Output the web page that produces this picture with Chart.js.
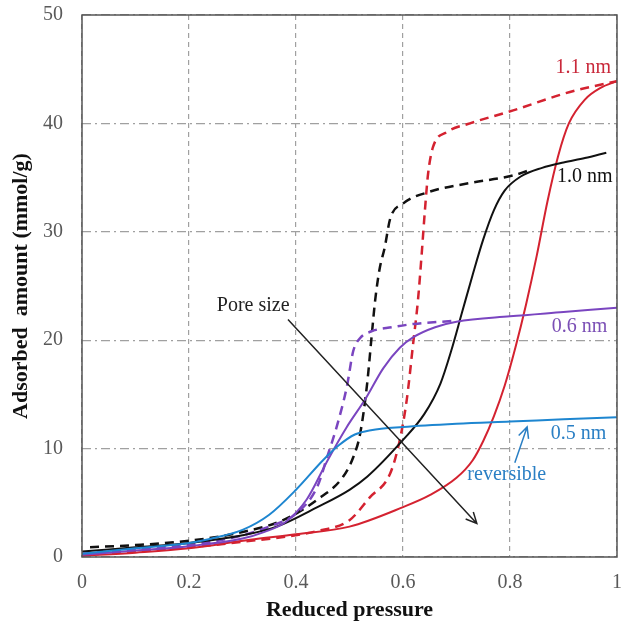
<!DOCTYPE html>
<html>
<head>
<meta charset="utf-8">
<script src="https://cdn.jsdelivr.net/npm/chart.js@4/dist/chart.umd.min.js"></script>
<style>
html, body { margin: 0; padding: 0; background: #fff; }
</style>
</head>
<body>
<canvas id="myChart" width="624" height="628"></canvas>
<script>
// 0.5 nm (reversible)
var blueX = [0, 0.1, 0.2, 0.25, 0.3, 0.35, 0.4, 0.45, 0.48, 0.51, 0.54, 0.6, 0.7, 0.8, 0.9, 1.0];
var blueY = [0.3, 0.8, 1.3, 1.8, 2.5, 3.9, 6.2, 8.9, 10.3, 11.3, 11.7, 12.0, 12.3, 12.5, 12.7, 12.9];

// 0.6 nm
var purpleX = [0, 0.1, 0.2, 0.3, 0.34, 0.38, 0.42, 0.46, 0.495, 0.53, 0.563, 0.594, 0.62, 0.66, 0.7, 0.8, 0.9, 1.0];
var purpleY = [0.2, 0.6, 1.0, 1.7, 2.3, 3.2, 5.3, 9.0, 12.0, 14.6, 17.4, 19.3, 20.3, 21.2, 21.7, 22.2, 22.6, 23.0];
var purpleDesX = [0, 0.1, 0.2, 0.3, 0.35, 0.4, 0.44, 0.458, 0.476, 0.495, 0.507, 0.52, 0.54, 0.58, 0.62, 0.7];
var purpleDesY = [0.3, 0.7, 1.1, 2.0, 2.8, 4.0, 6.5, 9.2, 12.0, 15.7, 19.0, 20.2, 20.8, 21.2, 21.5, 21.8];

// 1.0 nm
var blackX = [0, 0.1, 0.2, 0.3, 0.364, 0.44, 0.5, 0.533, 0.6, 0.64, 0.67, 0.69, 0.71, 0.73, 0.75, 0.77, 0.79, 0.82, 0.86, 0.9, 0.94, 0.98];
var blackY = [0.5, 0.9, 1.3, 2.0, 2.8, 4.6, 6.2, 7.4, 10.8, 13.2, 16.0, 19.0, 22.5, 26.0, 29.3, 32.0, 33.8, 35.1, 35.9, 36.4, 36.8, 37.3];
var blackDesX = [0.015, 0.1, 0.2, 0.3, 0.376, 0.44, 0.488, 0.507, 0.52, 0.533, 0.542, 0.548, 0.556, 0.566, 0.576, 0.6, 0.65, 0.725, 0.806, 0.837];
var blackDesY = [0.9, 1.1, 1.5, 2.3, 3.4, 5.3, 7.4, 9.2, 11.4, 16.0, 20.7, 23.7, 26.5, 28.6, 31.2, 32.6, 33.7, 34.5, 35.2, 35.7];

// 1.1 nm
var redX = [0, 0.1, 0.2, 0.314, 0.4, 0.5, 0.6, 0.65, 0.7, 0.73, 0.75, 0.77, 0.79, 0.81, 0.83, 0.85, 0.87, 0.89, 0.91, 0.94, 0.97, 1.0];
var redY = [0.1, 0.4, 0.8, 1.6, 2.1, 2.8, 4.6, 5.7, 7.3, 8.9, 10.7, 13.0, 15.8, 19.3, 23.3, 27.8, 32.8, 37.0, 40.0, 42.2, 43.3, 43.9];
var redDesX = [0, 0.1, 0.2, 0.3, 0.44, 0.5, 0.538, 0.576, 0.594, 0.607, 0.619, 0.628, 0.635, 0.641, 0.647, 0.656, 0.682, 0.725, 0.806, 0.912, 1.0];
var redDesY = [0.2, 0.5, 0.9, 1.4, 2.4, 3.4, 5.5, 7.7, 10.8, 14.5, 19.7, 23.7, 28.0, 32.0, 35.4, 37.8, 39.2, 40.0, 41.2, 42.9, 43.9];

var xTickLabels = ["0", "0.2", "0.4", "0.6", "0.8", "1"];

// annotations (data coordinates)
var labelText = ["1.1 nm", "1.0 nm", "0.6 nm", "0.5 nm", "reversible", "Pore size"];
var labelX = [0.937, 0.94, 0.93, 0.928, 0.794, 0.32];
var labelY = [45.1, 35.1, 21.2, 11.4, 7.6, 23.2];
var labelColor = ["#c9283a", "#111111", "#7b4fb5", "#2a7fc4", "#2a7fc4", "#222222"];

var arrowFrom = [[0.385, 21.9], [0.809, 8.7]];
var arrowTo = [[0.738, 3.1], [0.832, 12.0]];
var arrowColor = ["#222222", "#2a7fc4"];

function pts(xs, ys) {
    return xs.map(function (x, i) { return { x: x, y: ys[i] }; });
}

function line(data, color, dashed) {
    return {
        data: data,
        borderColor: color,
        borderWidth: dashed ? 2.5 : 2,
        borderDash: dashed ? [9, 6] : [],
        pointRadius: 0,
        fill: false,
        cubicInterpolationMode: 'monotone'
    };
}

var extras = {
    id: 'extras',
    afterDatasetsDraw: function (chart) {
        var c = chart.ctx, a = chart.chartArea;
        var sx = chart.scales.x, sy = chart.scales.y;
        c.save();
        c.strokeStyle = '#555';
        c.lineWidth = 1.5;
        c.strokeRect(a.left, a.top, a.right - a.left, a.bottom - a.top);

        c.font = '20px "Liberation Serif", "Times New Roman", serif';
        c.textAlign = 'center';
        c.textBaseline = 'middle';
        for (var i = 0; i < labelText.length; i++) {
            c.fillStyle = labelColor[i];
            c.fillText(labelText[i], sx.getPixelForValue(labelX[i]), sy.getPixelForValue(labelY[i]));
        }

        for (var j = 0; j < arrowFrom.length; j++) {
            var x1 = sx.getPixelForValue(arrowFrom[j][0]), y1 = sy.getPixelForValue(arrowFrom[j][1]);
            var x2 = sx.getPixelForValue(arrowTo[j][0]), y2 = sy.getPixelForValue(arrowTo[j][1]);
            var ang = Math.atan2(y2 - y1, x2 - x1);
            c.strokeStyle = arrowColor[j];
            c.lineWidth = 1.5;
            c.beginPath();
            c.moveTo(x1, y1);
            c.lineTo(x2, y2);
            c.moveTo(x2 - 12 * Math.cos(ang - 0.45), y2 - 12 * Math.sin(ang - 0.45));
            c.lineTo(x2, y2);
            c.lineTo(x2 - 12 * Math.cos(ang + 0.45), y2 - 12 * Math.sin(ang + 0.45));
            c.stroke();
        }
        c.restore();
    }
};

var ctx = document.getElementById("myChart");
var myChart = new Chart(ctx, {
    type: 'line',
    data: {
        datasets: [
            line(pts(blueX, blueY), '#1e86d0', false),
            line(pts(purpleX, purpleY), '#7a45c0', false),
            line(pts(blackX, blackY), '#111111', false),
            line(pts(redX, redY), '#d42230', false),
            line(pts(purpleDesX, purpleDesY), '#7a45c0', true),
            line(pts(blackDesX, blackDesY), '#111111', true),
            line(pts(redDesX, redDesY), '#d42230', true)
        ]
    },
    options: {
        responsive: false,
        animation: false,
        layout: { padding: { top: 15, right: 7, left: 0, bottom: 0 } },
        plugins: { legend: { display: false }, tooltip: { enabled: false } },
        scales: {
            x: {
                type: 'linear',
                min: 0,
                max: 1,
                ticks: {
                    stepSize: 0.2, color: '#595959', padding: 0,
                    font: { family: '"Liberation Serif", serif', size: 20 },
                    callback: function (v, i) { return xTickLabels[i]; }
                },
                grid: { color: '#a0a0a0', lineWidth: 1.2, drawTicks: true, tickLength: 14, tickColor: 'rgba(0,0,0,0)' },
                border: { display: false, dash: [5, 4] },
                title: { display: true, text: 'Reduced pressure', color: '#111', padding: { top: 2 },
                    font: { family: '"Liberation Serif", serif', size: 22, weight: 'bold' } },
                afterFit: function (s) { s.height = 71; }
            },
            y: {
                min: 0,
                max: 50,
                ticks: { stepSize: 10, color: '#595959', padding: 2, font: { family: '"Liberation Serif", serif', size: 20 } },
                grid: { color: '#a0a0a0', lineWidth: 1.2, drawTicks: true, tickLength: 17, tickColor: 'rgba(0,0,0,0)' },
                border: { display: false, dash: [9, 4, 2, 4] },
                title: { display: true, text: 'Adsorbed  amount (mmol/g)', color: '#111', padding: { top: 8, bottom: 4 },
                    font: { family: '"Liberation Serif", serif', size: 22, weight: 'bold' } },
                afterFit: function (s) { s.width = 82; }
            }
        }
    },
    plugins: [extras]
});
</script>
</body>
</html>
